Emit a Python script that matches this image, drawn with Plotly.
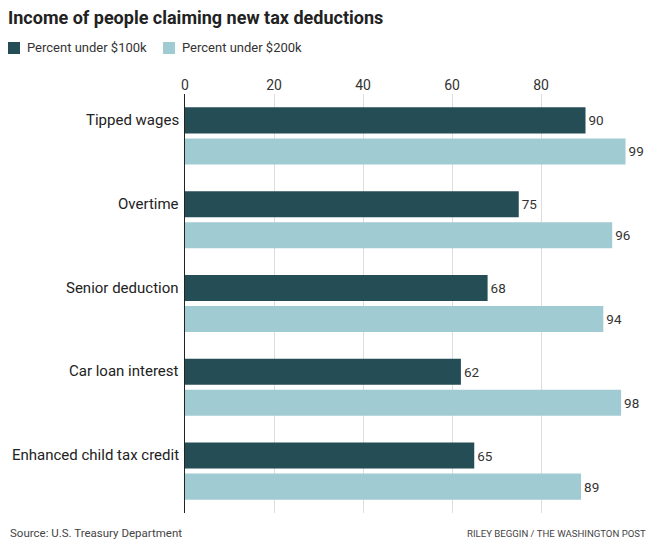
import plotly.graph_objects as go

# values
categories = ["Tipped wages", "Overtime", "Senior deduction",
              "Car loan interest", "Enhanced child tax credit"]
under_100k = [90, 75, 68, 62, 65]
under_200k = [99, 96, 94, 98, 89]
tick_values = [0, 20, 40, 60, 80]
series_names = ["Percent under $100k", "Percent under $200k"]

DARK = "#244d55"
LIGHT = "#a1cbd2"
FONT = "Roboto"

# plot area in pixels, used to place the hand-drawn legend and footer
L, R, T, B = 185, 630, 94, 513


def px_x(px):
    return (px - L) / (R - L)


def px_y(py):
    return (B - py) / (B - T)


fig = go.Figure()

for name, vals, color in [(series_names[0], under_100k, DARK),
                          (series_names[1], under_200k, LIGHT)]:
    fig.add_trace(go.Bar(
        name=name,
        y=categories,
        x=vals,
        orientation="h",
        marker=dict(color=color, line=dict(width=0)),
        text=vals,
        textposition="outside",
        textfont=dict(size=13.5, color="#333333", family=FONT),
        cliponaxis=False,
        hoverinfo="x+name",
    ))

fig.update_layout(
    width=662,
    height=545,
    margin=dict(l=L, r=662 - R, t=T, b=545 - B),
    paper_bgcolor="white",
    plot_bgcolor="white",
    font=dict(family=FONT, color="#333333"),
    barmode="group",
    bargap=0.26,
    bargroupgap=0.16,
    showlegend=False,
    title=dict(
        text="<b>Income of people claiming new tax deductions</b>",
        font=dict(size=18, color="#222222", family=FONT),
        x=8 / 662, xanchor="left", xref="container",
        y=1 - 18 / 545, yanchor="middle", yref="container",
    ),
)

fig.update_xaxes(
    side="top",
    range=[0, 100],
    tickvals=tick_values,
    ticks="",
    tickfont=dict(size=14, color="#333333"),
    showgrid=True,
    gridcolor="#dddddd",
    gridwidth=1,
    zeroline=False,
    showline=False,
    fixedrange=True,
)
fig.update_yaxes(
    autorange="reversed",
    showticklabels=False,
    ticks="",
    showgrid=False,
    showline=True,
    linecolor="#222222",
    linewidth=1,
    zeroline=False,
    fixedrange=True,
)

# category labels sit level with the first (dark) bar of each group
for cat in categories:
    fig.add_annotation(
        text=cat, xref="paper", yref="y", x=0, y=cat,
        xanchor="right", yanchor="middle", showarrow=False,
        xshift=-4, yshift=16,
        font=dict(size=15, color="#222222", family=FONT),
    )

# legend: square swatches + labels
legend_items = [(8, series_names[0], DARK), (163, series_names[1], LIGHT)]
for x0, label, color in legend_items:
    fig.add_shape(
        type="rect", xref="paper", yref="paper",
        x0=px_x(x0), x1=px_x(x0 + 12), y0=px_y(54), y1=px_y(42),
        fillcolor=color, line=dict(width=0),
    )
    fig.add_annotation(
        text=label, xref="paper", yref="paper",
        x=px_x(x0 + 17), y=px_y(48),
        xanchor="left", yanchor="middle", showarrow=False,
        font=dict(size=13, color="#333333", family=FONT),
    )

fig.add_annotation(
    text="Source: U.S. Treasury Department",
    xref="paper", yref="paper", x=px_x(8), y=px_y(533),
    xanchor="left", yanchor="middle", showarrow=False,
    font=dict(size=11.5, color="#444444", family=FONT),
)
fig.add_annotation(
    text="RILEY BEGGIN / THE WASHINGTON POST",
    xref="paper", yref="paper", x=px_x(648), y=px_y(533),
    xanchor="right", yanchor="middle", showarrow=False,
    font=dict(size=9.6, color="#444444", family="Liberation Sans Narrow, " + FONT),
)

fig.write_html("out.html", config={"displayModeBar": False},
               post_script="document.body.style.margin='0';")
